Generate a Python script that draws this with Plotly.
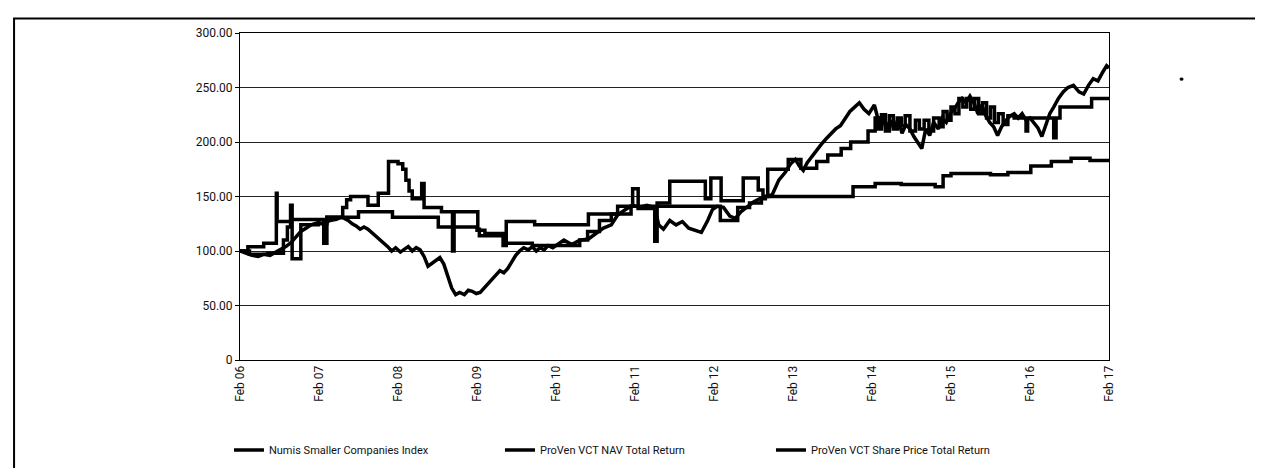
import plotly.graph_objects as go

# x values: years elapsed since Feb 2006
tick_vals = list(range(0, 12))
tick_text = ["Feb 06", "Feb 07", "Feb 08", "Feb 09", "Feb 10", "Feb 11",
             "Feb 12", "Feb 13", "Feb 14", "Feb 15", "Feb 16", "Feb 17"]
y_ticks = [0, 50, 100, 150, 200, 250, 300]
y_text = ["0", "50.00", "100.00", "150.00", "200.00", "250.00", "300.00"]

numis_t = [0.00, 0.08, 0.15, 0.23, 0.30, 0.38, 0.46, 0.52, 0.58, 0.65, 0.71, 0.77, 0.84, 0.90, 0.99,
           1.06, 1.14, 1.22, 1.29, 1.37, 1.42, 1.47, 1.52, 1.57, 1.62, 1.67, 1.72, 1.77, 1.82, 1.87, 1.92, 1.97,
           2.03, 2.08, 2.13, 2.18, 2.23, 2.28, 2.33, 2.38, 2.43, 2.48, 2.53, 2.58, 2.63, 2.68, 2.73, 2.78, 2.84, 2.89, 2.94, 2.99,
           3.04, 3.09, 3.14, 3.19, 3.24, 3.29, 3.34, 3.39, 3.44, 3.49, 3.54, 3.59, 3.65, 3.70, 3.75, 3.80, 3.85, 3.90, 3.96,
           4.03, 4.10, 4.20, 4.30, 4.41, 4.50, 4.60, 4.70, 4.78, 4.88, 4.97,
           5.05, 5.15, 5.25, 5.30, 5.36, 5.44, 5.52, 5.60, 5.68, 5.76, 5.84, 5.92, 5.98,
           6.04, 6.12, 6.20, 6.27, 6.34, 6.42, 6.50, 6.58, 6.66, 6.74, 6.82, 6.90, 6.97,
           7.03, 7.08, 7.13, 7.18, 7.24, 7.30, 7.36, 7.42, 7.48, 7.54, 7.60, 7.66, 7.72, 7.78, 7.84, 7.90, 7.96,
           8.03, 8.08, 8.13, 8.18, 8.23, 8.28, 8.33, 8.38, 8.43, 8.48, 8.53, 8.58, 8.63, 8.68, 8.73, 8.78, 8.84, 8.89, 8.94, 8.99,
           9.04, 9.09, 9.14, 9.19, 9.24, 9.29, 9.34, 9.39, 9.44, 9.49, 9.54, 9.59, 9.64, 9.70, 9.75, 9.80, 9.85, 9.90, 9.95,
           10.00, 10.05, 10.10, 10.15, 10.20, 10.25, 10.30, 10.36, 10.42, 10.48, 10.55, 10.62, 10.68, 10.74, 10.80, 10.86, 10.92, 10.97, 11.00]
numis_v = [100, 98, 96, 95, 97, 96, 99, 101, 104, 108, 113, 118, 121, 124, 126,
           125, 128, 129, 131, 128, 125, 123, 120, 122, 120, 117, 114, 110, 107, 104, 100, 103,
           99, 102, 104, 100, 103, 101, 95, 86, 89, 92, 94, 88, 76, 66, 60, 62, 60, 64, 63, 61,
           62, 66, 70, 74, 79, 82, 80, 84, 90, 96, 100, 103, 101, 104, 100, 103, 101, 105, 103,
           107, 110, 106, 110, 111, 116, 121, 124, 133, 138, 142,
           140, 142, 140, 124, 120, 128, 124, 127, 121, 119, 117, 128, 138,
           141, 140, 132, 130, 136, 141, 145, 148, 150, 152, 165, 172, 180,
           184, 178, 174, 181, 187, 192, 198, 203, 208, 212, 215, 222, 228, 232, 236, 230, 226,
           234, 220, 224, 212, 220, 212, 221, 208, 216, 212, 205, 200, 194, 212, 206, 218, 212, 222, 218, 226,
           230, 236, 240, 236, 242, 236, 226, 234, 224, 218, 214, 206, 214, 220, 224, 226, 222, 226, 220,
           222, 218, 213, 205, 216, 226, 232, 240, 246, 250, 252, 246, 244, 252, 258, 256, 264, 270, 268]

nav_t = [0, 0.12, 0.35, 0.55, 0.60, 0.64, 0.66, 0.77, 0.99, 1.10, 1.50, 1.93, 2.51, 3.00, 3.10, 3.35, 3.70,
         4.30, 4.40, 4.55, 4.70, 4.95, 6.08, 6.30, 6.45, 6.60, 6.65, 7.76, 8.04, 8.37, 8.80, 8.90, 9.00,
         9.50, 9.72, 10.01, 10.27, 10.52, 10.76, 11.00]
nav_v = [100, 97, 98, 110, 122, 142, 93, 124, 125, 131, 136, 131, 122, 119, 116, 107, 105,
         110, 118, 128, 134, 141, 128, 140, 144, 148, 150, 159, 162, 161, 159, 169, 171,
         170, 172, 178, 182, 185, 183, 183]

share_t = [0, 0.10, 0.30, 0.46, 0.47, 0.65, 1.06, 1.10, 1.30, 1.35, 1.40, 1.62, 1.75, 1.88, 2.00, 2.06, 2.10,
           2.14, 2.18, 2.30, 2.33, 2.55, 2.69, 2.71, 3.01, 3.03, 3.33, 3.37, 3.73, 4.41, 4.78, 4.97, 5.04,
           5.25, 5.28, 5.44, 5.89, 5.96, 6.09, 6.37, 6.56, 6.62, 6.68, 6.94, 7.10, 7.30, 7.44, 7.61, 7.73,
           7.95, 8.04, 8.08, 8.12, 8.17, 8.22, 8.27, 8.32, 8.37, 8.42, 8.48, 8.55, 8.60, 8.66, 8.72, 8.78,
           8.85, 8.90, 8.95, 9.00, 9.05, 9.10, 9.15, 9.20, 9.25, 9.30, 9.35, 9.40, 9.45, 9.50, 9.55, 9.60,
           9.66, 9.72, 9.80, 9.95, 9.97, 10.30, 10.33, 10.38, 10.78, 11.00]
share_v = [100, 104, 107, 153, 127, 129, 107, 131, 140, 147, 150, 142, 153, 182, 180, 175, 165,
           155, 148, 162, 140, 136, 100, 136, 120, 114, 105, 127, 124, 134, 141, 157, 139,
           109, 144, 164, 148, 167, 146, 167, 156, 150, 175, 184, 176, 182, 188, 194, 200,
           210, 222, 212, 225, 210, 224, 212, 222, 215, 224, 210, 220, 212, 220, 210, 222,
           214, 228, 220, 232, 226, 240, 232, 240, 230, 240, 226, 236, 222, 232, 218, 226,
           216, 224, 222, 210, 222, 204, 222, 232, 240, 240]

FONT = "Roboto, Liberation Sans, sans-serif"

fig = go.Figure()
fig.add_trace(go.Scatter(x=numis_t, y=numis_v, mode="lines", name="Numis Smaller Companies Index",
                         line=dict(color="#000000", width=3.5)))
fig.add_trace(go.Scatter(x=nav_t, y=nav_v, mode="lines", name="ProVen VCT NAV Total Return",
                         line=dict(color="#000000", width=3.5, shape="hv")))
fig.add_trace(go.Scatter(x=share_t, y=share_v, mode="lines", name="ProVen VCT Share Price Total Return",
                         line=dict(color="#000000", width=3.5, shape="hv")))

fig.update_layout(
    width=1263, height=468,
    margin=dict(l=232, r=162, t=25, b=103),
    paper_bgcolor="white", plot_bgcolor="white",
    font=dict(family=FONT, size=12, color="#111"),
    showlegend=True,
    legend=dict(orientation="h", x=-0.0127, xanchor="left", y=-0.275, yanchor="middle",
                font=dict(family=FONT, size=11, color="#111"),
                entrywidth=226, entrywidthmode="pixels", itemwidth=30,
                bgcolor="rgba(0,0,0,0)"),
    xaxis=dict(range=[0, 11], tickmode="array", tickvals=tick_vals, ticktext=tick_text,
               tickangle=-90, showgrid=False, zeroline=False, showline=True, mirror=True,
               linecolor="#000", linewidth=1, ticks="", tickfont=dict(family=FONT, size=12, color="#111")),
    yaxis=dict(range=[0, 300], tickmode="array", tickvals=y_ticks, ticktext=y_text,
               showgrid=True, gridcolor="#222", gridwidth=1, zeroline=False, showline=True, mirror=True,
               linecolor="#000", linewidth=1, ticks="outside", ticklen=4, tickcolor="#000",
               tickfont=dict(family=FONT, size=12, color="#111")),
    shapes=[
        dict(type="rect", xref="paper", yref="paper", x0=-0.26, x1=1.183, y0=-0.35, y1=1.044,
             line=dict(color="#000", width=2), fillcolor="rgba(0,0,0,0)", layer="below"),
        dict(type="rect", xref="paper", yref="paper", x0=1.082, x1=1.085, y0=0.856, y1=0.862,
             line=dict(color="#000", width=1), fillcolor="#000"),
    ],
)

fig.write_html("out.html")
